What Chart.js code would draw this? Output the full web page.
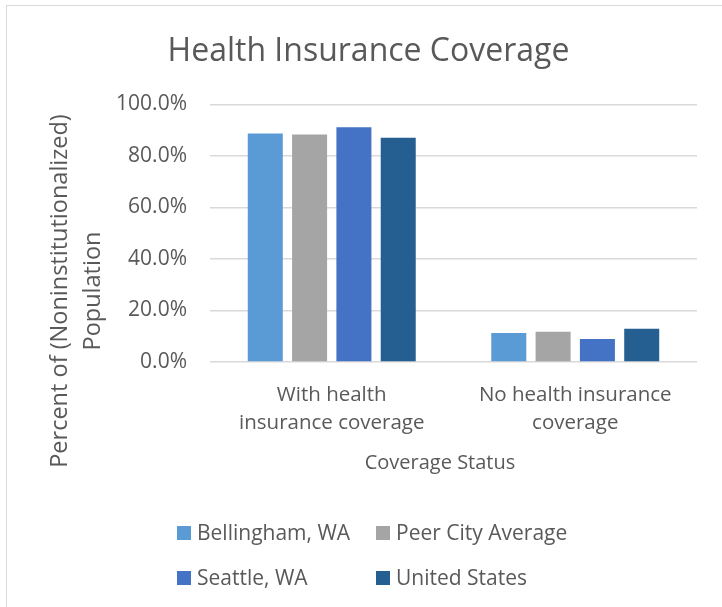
<!DOCTYPE html>
<html>
<head>
<meta charset="utf-8">
<script src="https://cdn.jsdelivr.net/npm/chart.js@4.4.0/dist/chart.umd.min.js"></script>
<style>
  html, body { margin: 0; padding: 0; background: #ffffff; }
  #wrap { position: relative; width: 722px; height: 607px; overflow: hidden; }
  #frame { position: absolute; left: 6px; top: 5px; width: 730px; height: 620px; border: 1px solid #d9d9d9; box-sizing: border-box; }
  canvas { position: absolute; left: 0; top: 0; }
</style>
</head>
<body>
<div id="wrap">
  <div id="frame"></div>
  <canvas id="c" width="722" height="607"></canvas>
</div>
<script>
// ---- data ----
const categories = [["With health", "insurance coverage"], ["No health insurance", "coverage"]];
const seriesNames = ["Bellingham, WA", "Peer City Average", "Seattle, WA", "United States"];
const bellingham = [0.887, 0.113];
const peerCity = [0.883, 0.117];
const seattle = [0.911, 0.089];
const unitedStates = [0.871, 0.129];
const yTicks = [0, 0.2, 0.4, 0.6, 0.8, 1.0];
const chartTitle = "Health Insurance Coverage";
const xTitle = "Coverage Status";
const yTitle = ["Percent of (Noninstitutionalized)", "Population"];

const colors = ["#5B9BD5", "#A5A5A5", "#4472C4", "#255E91"];
const TEXT = "#595959";
const FONT = "'Open Sans', sans-serif";

// legend (2x2 grid) and axis titles drawn with the chart's own context
const extrasPlugin = {
  id: 'extras',
  afterDraw(chart) {
    const ctx = chart.ctx;
    const area = chart.chartArea;
    ctx.save();
    // legend
    const colX = [177, 376];
    const rowY = [533, 578];
    ctx.font = "21px " + FONT;
    ctx.textBaseline = "middle";
    ctx.textAlign = "left";
    chart.data.datasets.forEach((ds, i) => {
      const x = colX[i % 2], y = rowY[Math.floor(i / 2)];
      ctx.fillStyle = ds.backgroundColor;
      ctx.fillRect(x, y - 7, 14, 14);
      ctx.fillStyle = TEXT;
      ctx.fillText(ds.label, x + 20, y + 1);
    });
    // x axis title
    ctx.font = "20px " + FONT;
    ctx.textAlign = "center";
    ctx.fillText(xTitle, 440, area.bottom + 101);
    // y axis title
    ctx.font = "23.5px " + FONT;
    ctx.translate(60, 291);
    ctx.rotate(-Math.PI / 2);
    yTitle.forEach((line, k) => ctx.fillText(line, 0, k * 33));
    ctx.restore();
  }
};

const datasets = [bellingham, peerCity, seattle, unitedStates].map((vals, i) => ({
  label: seriesNames[i],
  data: vals,
  backgroundColor: colors[i],
  borderWidth: 0,
  categoryPercentage: 0.728,
  barPercentage: 0.79
}));

new Chart(document.getElementById('c'), {
  type: 'bar',
  data: { labels: categories, datasets },
  plugins: [extrasPlugin],
  options: {
    responsive: false,
    animation: false,
    devicePixelRatio: 1,
    layout: { padding: { left: 40, right: 25, top: 0, bottom: 125 } },
    plugins: {
      legend: { display: false },
      tooltip: { enabled: false },
      title: {
        display: true,
        text: chartTitle,
        color: TEXT,
        font: { family: FONT, size: 32, weight: 'normal', lineHeight: 1.2 },
        padding: { top: 33, bottom: 33 }
      }
    },
    scales: {
      x: {
        grid: { display: false, drawTicks: false },
        border: { display: false },
        ticks: { color: TEXT, font: { family: FONT, size: 20.5, lineHeight: 1.37 }, padding: 19, maxRotation: 0, autoSkip: false },
        afterFit(scale) { scale.height = 120; }
      },
      y: {
        min: 0, max: 1.0,
        afterBuildTicks(scale) { scale.ticks = yTicks.map(v => ({ value: v })); },
        grid: { color: '#d9d9d9', lineWidth: 1.5, drawTicks: false },
        border: { display: false },
        ticks: {
          color: TEXT, font: { family: FONT, size: 21 }, padding: 23,
          callback: (v) => (v * 100).toFixed(1) + '%'
        },
        afterFit(scale) { scale.width = 170; }
      }
    }
  }
});
</script>
</body>
</html>
